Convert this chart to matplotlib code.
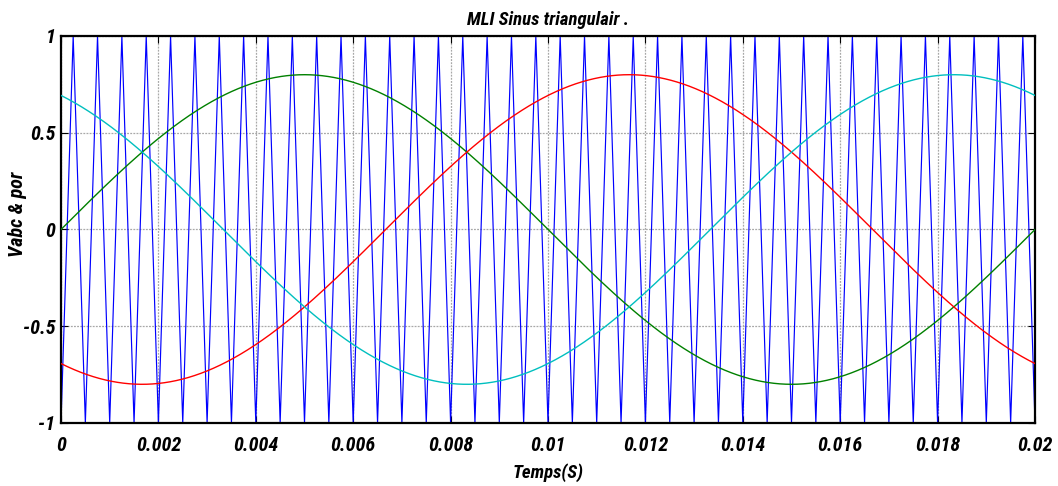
import numpy as np
import matplotlib
matplotlib.use("Agg")
import matplotlib.pyplot as plt
from matplotlib import font_manager

# ---- data ----
t_start, t_end = 0.0, 0.02          # time axis (s)
ref_freq = 50.0                      # reference sine frequency (Hz)
ref_amp = 0.8                        # reference sine amplitude
phase_green = 0.0                    # phase of phase-a (deg)
phase_red = -120.0                   # phase of phase-b (deg)
phase_cyan = 120.0                   # phase of phase-c (deg)
carrier_freq = 2000.0                # triangular carrier frequency (Hz)
carrier_low, carrier_high = -1.0, 1.0

xticks = [0, 0.002, 0.004, 0.006, 0.008, 0.01, 0.012, 0.014, 0.016, 0.018, 0.02]
xtick_labels = ["0", "0.002", "0.004", "0.006", "0.008", "0.01", "0.012",
                "0.014", "0.016", "0.018", "0.02"]
yticks = [-1, -0.5, 0, 0.5, 1]
ytick_labels = ["-1", "-0.5", "0", "0.5", "1"]
title = "MLI Sinus triangulair ."
xlabel = "Temps(S)"
ylabel = "Vabc & por"

# ---- fonts ----
names = {f.name for f in font_manager.fontManager.ttflist}
fam = "Liberation Sans"
for cand in ["Liberation Sans Narrow", "Arial Narrow", "Roboto Condensed",
             "Open Sans Condensed", "Noto Sans Condensed", "DejaVu Sans Condensed"]:
    if cand in names:
        fam = cand
        break
plt.rcParams["font.family"] = [fam, "DejaVu Sans"]

# ---- signals ----
t = np.linspace(t_start, t_end, 4001)
w = 2 * np.pi * ref_freq
va = ref_amp * np.sin(w * t + np.deg2rad(phase_green))
vb = ref_amp * np.sin(w * t + np.deg2rad(phase_red))
vc = ref_amp * np.sin(w * t + np.deg2rad(phase_cyan))

n_half = int(round((t_end - t_start) * carrier_freq * 2))
t_car = t_start + np.arange(n_half + 1) / (2 * carrier_freq)
v_car = np.where(np.arange(n_half + 1) % 2 == 0, carrier_low, carrier_high)

# ---- figure ----
fig = plt.figure(figsize=(10.58, 4.86), dpi=100)
ax = fig.add_axes([61 / 1058, 63 / 486, 974 / 1058, 387 / 486])

ax.plot(t_car, v_car, color="#0000ff", lw=0.85, zorder=2)
ax.plot(t, va, color="#008000", lw=1.0, zorder=3)
ax.plot(t, vb, color="#ff0000", lw=1.0, zorder=3)
ax.plot(t, vc, color="#00bfbf", lw=1.0, zorder=3)

ax.set_xlim(t_start, t_end)
ax.set_ylim(-1, 1)
ax.set_xticks(xticks)
ax.set_xticklabels(xtick_labels)
ax.set_yticks(yticks)
ax.set_yticklabels(ytick_labels)

ax.grid(True, color="#a8a8a8", linestyle=(0, (1.5, 1)), lw=0.9, zorder=1)
ax.set_axisbelow(True)

for s in ax.spines.values():
    s.set_linewidth(1.6)
    s.set_color("black")

ax.tick_params(direction="in", length=5, width=0.8, top=True, right=True,
               labelsize=14.5, pad=9)
for lab in ax.get_xticklabels() + ax.get_yticklabels():
    lab.set_fontweight("bold")
    lab.set_fontstyle("italic")
ax.tick_params(axis="y", pad=4)

ax.set_title(title, fontsize=13.5, fontweight="bold", fontstyle="italic", pad=8)
ax.set_xlabel(xlabel, fontsize=13.5, fontweight="bold", fontstyle="italic", labelpad=6)
ax.set_ylabel(ylabel, fontsize=14.5, fontweight="bold", fontstyle="italic")
ax.yaxis.set_label_coords(-0.035, 0.54)

fig.savefig("out.png", dpi=100)
